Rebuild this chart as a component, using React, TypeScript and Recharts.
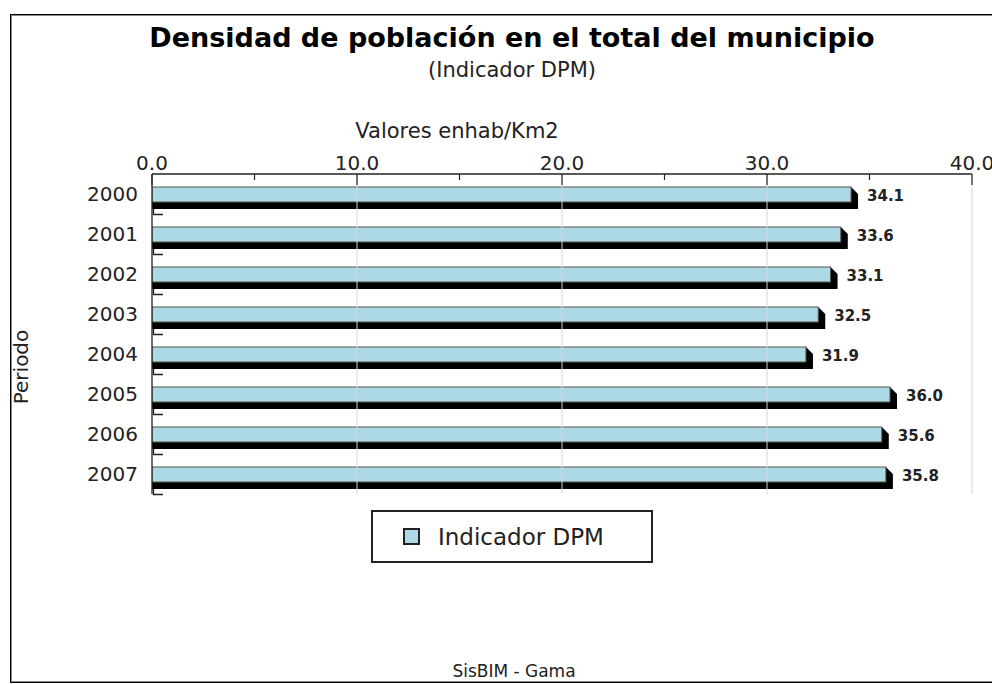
import React from 'react';
import { BarChart, Bar, XAxis, YAxis, ReferenceLine, LabelList, Legend } from 'recharts';

const periods = ['2000', '2001', '2002', '2003', '2004', '2005', '2006', '2007'];
const dpmValues = [34.1, 33.6, 33.1, 32.5, 31.9, 36.0, 35.6, 35.8];
const xTicks = [0, 5, 10, 15, 20, 25, 30, 35, 40];
const majorTicks = [0, 10, 20, 30, 40];
const gridValues = [10, 20, 30, 40];
const titleText = 'Densidad de población en el total del municipio';
const subtitleText = '(Indicador DPM)';
const xAxisTitle = 'Valores enhab/Km2';
const yAxisTitle = 'Periodo';
const seriesName = 'Indicador DPM';
const footerText = 'SisBIM - Gama';

const data = periods.map((p, i) => ({ period: p, value: dpmValues[i] }));

const FONT = "'DejaVu Sans', Verdana, sans-serif";
const BAR_FILL = '#ADD8E6';
const INK = '#222';
const DEPTH = 7;

const ShadowBar = (props: any) => {
  const { x, y, width, height } = props;
  if (width == null || height == null) return null;
  const pts = [
    [x + width, y],
    [x + width + DEPTH, y + DEPTH],
    [x + width + DEPTH, y + height + DEPTH],
    [x, y + height + DEPTH],
    [x, y + height],
  ]
    .map((p) => p.join(','))
    .join(' ');
  return (
    <g>
      <polygon points={pts} fill="#000" />
      <rect x={x} y={y} width={width} height={height} fill={BAR_FILL} stroke="#555" strokeWidth={1} />
    </g>
  );
};

const ValueLabel = (props: any) => {
  const { x, y, width, height, value } = props;
  return (
    <text
      x={x + width + 16}
      y={y + height / 2 + 1}
      dy="0.36em"
      fontFamily={FONT}
      fontWeight="bold"
      fontSize={15}
      fill={INK}
    >
      {Number(value).toFixed(1)}
    </text>
  );
};

const TopTick = (props: any) => {
  const { x, y, payload } = props;
  const major = majorTicks.includes(payload.value);
  return (
    <g>
      <line x1={x} x2={x} y1={y} y2={y + (major ? 11 : 6)} stroke="#222" strokeWidth={1.2} />
      {major && (
        <text x={x} y={y - 4} textAnchor="middle" fontFamily={FONT} fontSize={20} fill={INK}>
          {Number(payload.value).toFixed(1)}
        </text>
      )}
    </g>
  );
};

const LeftTick = (props: any) => {
  const { x, y, payload } = props;
  return (
    <g>
      <path
        d={`M${x + 1.5},${y + 15} L${x + 1.5},${y + 20.5} L${x + 11},${y + 20.5}`}
        stroke="#222"
        fill="none"
        strokeWidth={1.3}
      />
      <text x={x - 14} y={y} dy="0.36em" textAnchor="end" fontFamily={FONT} fontSize={20} fill={INK}>
        {payload.value}
      </text>
    </g>
  );
};

const LegendBox = () => (
  <div
    style={{
      boxSizing: 'border-box',
      width: 282,
      height: 53,
      border: '2px solid #222',
      background: '#fff',
      display: 'flex',
      alignItems: 'center',
      paddingLeft: 30,
      fontFamily: FONT,
      fontSize: 23,
      color: INK,
    }}
  >
    <span
      style={{
        boxSizing: 'border-box',
        display: 'inline-block',
        width: 17,
        height: 17,
        border: '2px solid #222',
        background: BAR_FILL,
        marginRight: 18,
      }}
    />
    <span>{seriesName}</span>
  </div>
);

export default function App() {
  return (
    <div style={{ position: 'absolute', left: 0, top: 0, width: 992, height: 684, background: '#fff' }}>
      <svg width={992} height={684} style={{ position: 'absolute', left: 0, top: 0 }}>
        <rect x={10.5} y={14.5} width={1010} height={668} fill="#fff" stroke="#000" strokeWidth={1} />
        <rect x={11.5} y={15.5} width={1010} height={666} fill="none" stroke="#888" strokeWidth={1} />
        <text x={512} y={47} textAnchor="middle" fontFamily={FONT} fontWeight="bold" fontSize={27} fill="#000">
          {titleText}
        </text>
        <text x={512} y={77} textAnchor="middle" fontFamily={FONT} fontSize={21} fill={INK}>
          {subtitleText}
        </text>
        <text x={457} y={138} textAnchor="middle" fontFamily={FONT} fontSize={21} fill={INK}>
          {xAxisTitle}
        </text>
        <text transform="translate(28,367) rotate(-90)" textAnchor="middle" fontFamily={FONT} fontSize={20} fill={INK}>
          {yAxisTitle}
        </text>
        <text x={514} y={677} textAnchor="middle" fontFamily={FONT} fontSize={17} fill={INK}>
          {footerText}
        </text>
      </svg>
      <div style={{ position: 'absolute', left: 0, top: 0 }}>
        <BarChart
          width={992}
          height={684}
          data={data}
          layout="vertical"
          margin={{ top: 144, right: 20, bottom: 190, left: 92 }}
        >
          {gridValues.map((v) => (
            <ReferenceLine key={v} x={v} stroke="#d6d6d6" strokeWidth={1} />
          ))}
          <XAxis
            type="number"
            orientation="top"
            domain={[0, 40]}
            ticks={xTicks}
            interval={0}
            height={30}
            tickSize={0}
            tickMargin={0}
            tickLine={false}
            axisLine={{ stroke: '#222', strokeWidth: 1.3 }}
            tick={<TopTick />}
            allowDataOverflow
          />
          <YAxis
            type="category"
            dataKey="period"
            width={60}
            tickSize={0}
            tickMargin={0}
            tickLine={false}
            axisLine={{ stroke: '#222', strokeWidth: 1.3 }}
            tick={<LeftTick />}
            interval={0}
          />
          <Legend
            layout="horizontal"
            verticalAlign="middle"
            align="center"
            content={<LegendBox />}
            wrapperStyle={{ left: 371, top: 510, width: 282, height: 53 }}
          />
          <Bar dataKey="value" name={seriesName} barSize={15} shape={<ShadowBar />} isAnimationActive={false}>
            <LabelList dataKey="value" content={<ValueLabel />} />
          </Bar>
        </BarChart>
      </div>
    </div>
  );
}
